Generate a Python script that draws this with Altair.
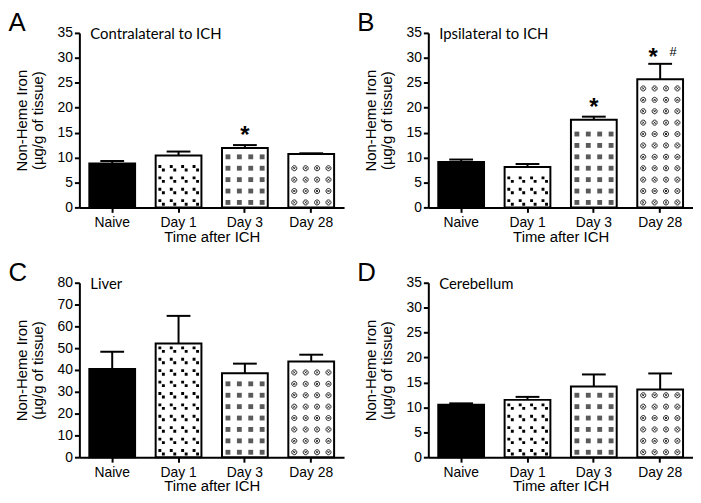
import altair as alt
import pandas as pd

# ---------------- data ----------------
CATEGORIES = ["Naive", "Day 1", "Day 3", "Day 28"]
PANEL_LETTERS = ["A", "B", "C", "D"]
PANEL_NOTES = ["Contralateral to ICH", "Ipsilateral to ICH", "Liver", "Cerebellum"]

A_MEAN = [8.8, 10.4, 11.9, 10.7]
A_SEM = [0.5, 0.8, 0.6, 0.15]
B_MEAN = [9.1, 8.1, 17.6, 25.7]
B_SEM = [0.5, 0.6, 0.6, 3.1]
C_MEAN = [40.5, 52.1, 38.5, 43.9]
C_SEM = [7.8, 12.7, 4.4, 3.1]
D_MEAN = [10.5, 11.5, 14.2, 13.6]
D_SEM = [0.3, 0.6, 2.4, 3.2]

A_STAR = ["", "", "*", ""]
B_STAR = ["", "", "*", "*"]
B_HASH = ["", "", "", "#"]
NO_MARK = ["", "", "", ""]

Y_TICKS_35 = [0, 5, 10, 15, 20, 25, 30, 35]
Y_TICKS_80 = [0, 10, 20, 30, 40, 50, 60, 70, 80]

# fill-pattern grid (rows of pattern glyphs inside each bar)
PATTERN_ROWS = list(range(18))

# ---------------- styling ----------------
W, H = 267, 176
ROW_PX = 11.5
ROW_START_PX = 5.0
COL_OFFSETS = [6, 17.5, 29, 40.5]   # pixel offsets of pattern columns from bar's left edge
FONT = "Liberation Sans"
NOTE_FONT = "Lato"

PATH_DIAG = "M-1,-1H-0.1V-0.1H-1Z M0.1,0.1H1V1H0.1Z"
PATH_OX = ("M-1,0A1,1 0 1,0 1,0A1,1 0 1,0 -1,0Z "
           "M-0.45,-0.45L0.45,0.45 M-0.45,0.45L0.45,-0.45")

PATTERN_STYLE = {
    "Day 1": dict(shape=PATH_DIAG, filled=True, color="black", size=42, strokeWidth=0),
    "Day 3": dict(shape="square", filled=True, color="#5a5a5a", size=24, strokeWidth=0),
    "Day 28": dict(shape=PATH_OX, filled=False, color="#222", size=26, strokeWidth=1),
}


def panel(letter, note, means, sems, stars, hashes, yticks):
    ymax = yticks[-1]
    df = pd.DataFrame({"cat": CATEGORIES, "mean": means, "sem": sems,
                       "star": stars, "hash": hashes})
    pat = pd.DataFrame(
        [{"cat": c, "mean": m, "row": r}
         for c, m in zip(CATEGORIES, means) if c != "Naive"
         for r in PATTERN_ROWS]
    )

    xscale = alt.Scale(domain=CATEGORIES, paddingInner=0.31, paddingOuter=0.15)
    yscale = alt.Scale(domain=[0, ymax], nice=False, zero=True)
    x_ax = alt.Axis(title="Time after ICH", labelAngle=0, tickSize=5,
                    labelPadding=3, titlePadding=0)
    y_ax = alt.Axis(values=yticks, title=["Non-Heme Iron", "(µg/g of tissue)"],
                    tickSize=5, labelPadding=2, titlePadding=12, titleLineHeight=16)

    X = alt.X("cat:N", sort=CATEGORIES, scale=xscale, axis=x_ax)

    def Y(field):
        return alt.Y(field, scale=yscale, axis=y_ax)

    base = alt.Chart(df)

    bars = base.mark_bar(stroke="black", strokeWidth=2).encode(
        x=X, y=Y("mean:Q"),
        fill=alt.Fill("cat:N", scale=alt.Scale(domain=CATEGORIES,
                                               range=["black", "white", "white", "white"]),
                      legend=None),
    )

    pbase = (alt.Chart(pat)
             .transform_calculate(py=f"({ROW_START_PX} + datum.row * {ROW_PX}) * {ymax} / {H}")
             .transform_filter(f"datum.py + 3.2 * {ymax} / {H} <= datum.mean"))
    pattern_layers = []
    for cat, style in PATTERN_STYLE.items():
        for off in COL_OFFSETS:
            pattern_layers.append(
                pbase.transform_filter(f"datum.cat == '{cat}'")
                .mark_point(opacity=1, **style)
                .encode(x=X, xOffset=alt.value(off), y=Y("py:Q"))
            )

    ebase = base.transform_calculate(top="datum.mean + datum.sem")
    rule = ebase.mark_rule(color="black", strokeWidth=2).encode(
        x=X, y=Y("mean:Q"), y2="top:Q")
    cap = ebase.mark_tick(color="black", size=24, thickness=2, opacity=1).encode(
        x=X, y=Y("top:Q"))

    star_solo = ebase.transform_filter("datum.star != '' && datum.hash == ''").mark_text(
        font=FONT, fontSize=24, fontWeight="bold", baseline="alphabetic", dy=-2, color="black"
    ).encode(x=X, y=Y("top:Q"), text="star:N")
    star_pair = ebase.transform_filter("datum.star != '' && datum.hash != ''").mark_text(
        font=FONT, fontSize=24, fontWeight="bold", baseline="alphabetic", dy=1, dx=-7,
        color="black"
    ).encode(x=X, y=Y("top:Q"), text="star:N")
    hash_t = ebase.transform_filter("datum.hash != ''").mark_text(
        font=FONT, fontSize=13, baseline="alphabetic", dy=-8, dx=13, color="black"
    ).encode(x=X, y=Y("top:Q"), text="hash:N")

    note_t = alt.Chart(pd.DataFrame({"note": [note]})).mark_text(
        font=NOTE_FONT, fontSize=15, align="left", baseline="alphabetic", color="black"
    ).encode(x=alt.value(11), y=alt.value(6), text="note:N")

    layers = [bars] + pattern_layers + [rule, cap, star_solo, star_pair, hash_t, note_t]
    return alt.layer(*layers).properties(
        width=W, height=H,
        title=alt.TitleParams(letter, anchor="start", fontSize=26, fontWeight="normal",
                              font=FONT, offset=-10, dx=-6, color="black"),
    )


pa = panel(PANEL_LETTERS[0], PANEL_NOTES[0], A_MEAN, A_SEM, A_STAR, NO_MARK, Y_TICKS_35)
pb = panel(PANEL_LETTERS[1], PANEL_NOTES[1], B_MEAN, B_SEM, B_STAR, B_HASH, Y_TICKS_35)
pc = panel(PANEL_LETTERS[2], PANEL_NOTES[2], C_MEAN, C_SEM, NO_MARK, NO_MARK, Y_TICKS_80)
pd_ = panel(PANEL_LETTERS[3], PANEL_NOTES[3], D_MEAN, D_SEM, NO_MARK, NO_MARK, Y_TICKS_35)

chart = alt.concat(pa, pb, pc, pd_, columns=2, spacing={"row": 16, "column": 13}).properties(
    padding={"left": 0, "top": 0, "right": 0, "bottom": 0}
).configure_view(stroke=None).configure_axis(
    grid=False, domainColor="black", domainWidth=2, tickColor="black", tickWidth=2,
    labelColor="black", titleColor="black", labelFont=FONT, titleFont=FONT,
    labelFontSize=14, titleFontSize=15, titleFontWeight="normal",
).configure_title(font=FONT)

chart.save("out.html", embed_options={"renderer": "svg", "actions": False})
